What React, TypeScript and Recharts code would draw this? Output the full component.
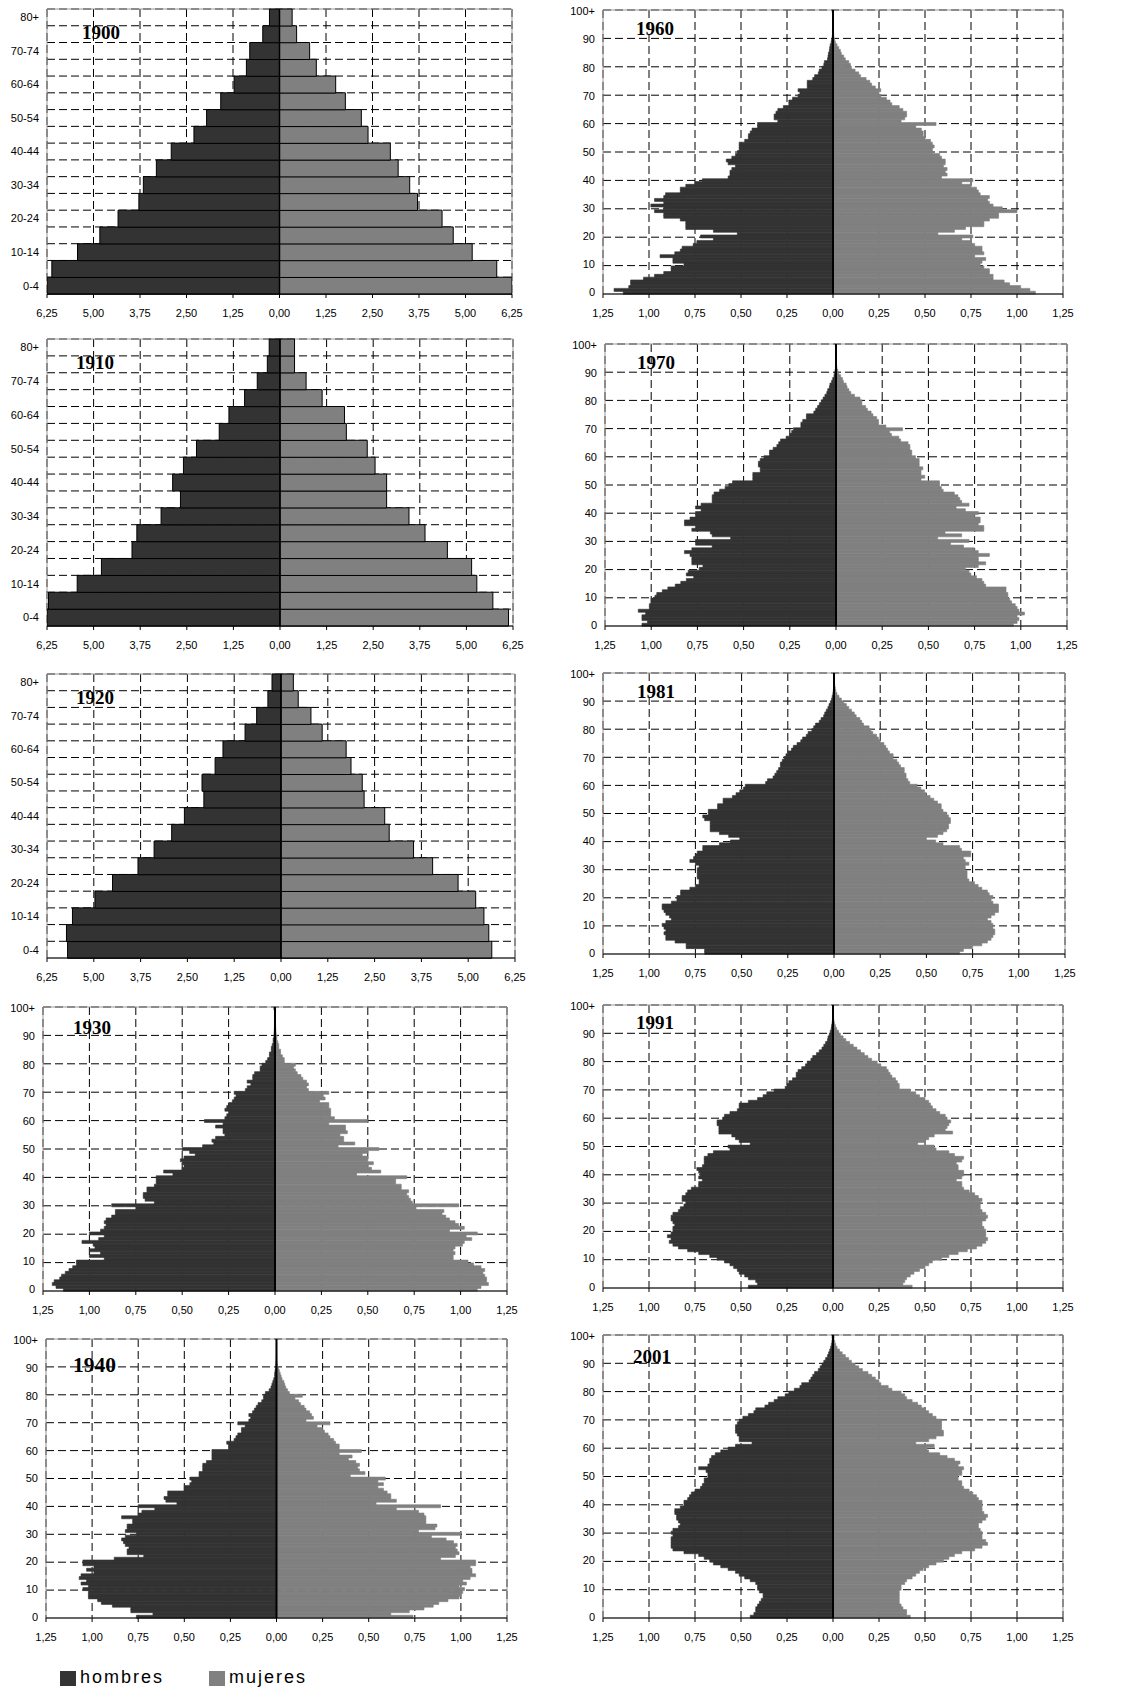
import React from "react";
import {
  BarChart,
  Bar,
  XAxis,
  YAxis,
  CartesianGrid,
  ReferenceLine,
  ReferenceArea,
} from "recharts";

// Age labels
const GROUPS = [
  "0-4", "5-9", "10-14", "15-19", "20-24", "25-29", "30-34", "35-39", "40-44",
  "45-49", "50-54", "55-59", "60-64", "65-69", "70-74", "75-79", "80+",
];
const AGES = Array.from({ length: 101 }, (_, i) => i);

// x-axis ticks (percent of total population)
const TICKS_GROUPS = [-6.25, -5, -3.75, -2.5, -1.25, 0, 1.25, 2.5, 3.75, 5, 6.25];
const TICKS_AGES = [-1.25, -1, -0.75, -0.5, -0.25, 0, 0.25, 0.5, 0.75, 1, 1.25];

// 5-year groups, 0-4 first
const hombres1900 = [6.39, 6.12, 5.43, 4.83, 4.34, 3.78, 3.66, 3.31, 2.91, 2.3, 1.96, 1.58, 1.22, 0.89, 0.8, 0.45, 0.27];
const mujeres1900 = [6.28, 5.84, 5.18, 4.67, 4.37, 3.71, 3.5, 3.19, 2.98, 2.38, 2.2, 1.77, 1.51, 0.99, 0.81, 0.46, 0.34];
const hombres1910 = [6.38, 6.21, 5.44, 4.79, 3.97, 3.84, 3.19, 2.67, 2.88, 2.59, 2.24, 1.63, 1.37, 0.95, 0.61, 0.34, 0.29];
const mujeres1910 = [6.13, 5.71, 5.28, 5.14, 4.49, 3.89, 3.46, 2.86, 2.86, 2.55, 2.34, 1.78, 1.73, 1.13, 0.7, 0.39, 0.39];
const hombres1920 = [5.7, 5.73, 5.57, 4.97, 4.5, 3.82, 3.39, 2.92, 2.58, 2.06, 2.11, 1.76, 1.55, 0.96, 0.65, 0.35, 0.24];
const mujeres1920 = [5.63, 5.55, 5.42, 5.2, 4.73, 4.05, 3.54, 2.89, 2.77, 2.22, 2.17, 1.87, 1.74, 1.1, 0.8, 0.46, 0.33];

// single years, age 0 first, last value is 100+
const hombres1930 = [
  1.14, 1.18, 1.2, 1.19, 1.16, 1.15, 1.13, 1.11, 1.09, 1.07,
  1.07, 0.92, 1.0, 0.94, 1.0, 0.97, 0.98, 1.04, 0.95, 0.92,
  1.0, 0.94, 0.92, 0.91, 0.92, 0.91, 0.88, 0.86, 0.86, 0.75,
  0.88, 0.65, 0.7, 0.71, 0.71, 0.69, 0.69, 0.65, 0.64, 0.64,
  0.64, 0.55, 0.6, 0.5, 0.49, 0.5, 0.51, 0.49, 0.43, 0.46,
  0.5, 0.39, 0.33, 0.34, 0.32, 0.27, 0.28, 0.28, 0.32, 0.28,
  0.38, 0.27, 0.26, 0.25, 0.27, 0.26, 0.25, 0.23, 0.22, 0.21,
  0.22, 0.16, 0.15, 0.13, 0.15, 0.12, 0.12, 0.11, 0.08, 0.08,
  0.07, 0.05, 0.04, 0.03, 0.03, 0.02, 0.02, 0.015, 0.01, 0.01,
  0.006, 0.005, 0.004, 0.003, 0.003, 0.002, 0.002, 0.002, 0.001, 0.001, 0.006,
];
const mujeres1930 = [
  1.09, 1.11, 1.15, 1.14, 1.14, 1.13, 1.12, 1.13, 1.11, 1.07,
  1.04, 0.96, 0.96, 0.97, 0.96, 0.97, 1.01, 1.02, 1.06, 1.03,
  1.09, 0.94, 1.02, 0.99, 0.97, 0.94, 0.92, 0.9, 0.91, 0.76,
  0.99, 0.74, 0.73, 0.72, 0.71, 0.72, 0.68, 0.68, 0.65, 0.65,
  0.71, 0.44, 0.57, 0.52, 0.5, 0.53, 0.5, 0.5, 0.47, 0.5,
  0.56, 0.34, 0.43, 0.37, 0.37, 0.35, 0.39, 0.38, 0.38, 0.29,
  0.5, 0.32, 0.3, 0.3, 0.3, 0.29, 0.29, 0.24, 0.27, 0.26,
  0.29, 0.18, 0.17, 0.18, 0.17, 0.15, 0.14, 0.12, 0.11, 0.1,
  0.11, 0.05, 0.05, 0.04, 0.03, 0.03, 0.02, 0.02, 0.015, 0.01,
  0.01, 0.006, 0.005, 0.004, 0.003, 0.002, 0.002, 0.001, 0.001, 0.001, 0.002,
];
const hombres1940 = [
  0.76, 0.67, 0.79, 0.79, 0.89, 0.95, 0.97, 1.02, 1.02, 1.02,
  1.05, 1.02, 1.06, 1.03, 1.07, 1.06, 0.99, 1.03, 0.99, 1.05,
  1.05, 0.88, 0.72, 0.81, 0.81, 0.8, 0.82, 0.83, 0.84, 0.82,
  0.76, 0.82, 0.81, 0.81, 0.78, 0.78, 0.84, 0.75, 0.73, 0.66,
  0.75, 0.54, 0.6, 0.61, 0.59, 0.59, 0.5, 0.5, 0.47, 0.46,
  0.47, 0.42, 0.42, 0.4, 0.4, 0.4, 0.38, 0.35, 0.35, 0.35,
  0.35, 0.26, 0.26, 0.27, 0.23, 0.22, 0.21, 0.19, 0.19, 0.17,
  0.21, 0.15, 0.14, 0.15, 0.13, 0.12, 0.11, 0.1, 0.08, 0.07,
  0.07, 0.06, 0.04, 0.03, 0.025, 0.02, 0.015, 0.01, 0.01, 0.008,
  0.005, 0.004, 0.003, 0.002, 0.002, 0.001, 0.001, 0.001, 0.001, 0.001, 0.001,
];
const mujeres1940 = [
  0.74, 0.62, 0.72, 0.8, 0.85, 0.88, 0.93, 0.99, 1.0, 1.01,
  1.02, 0.99, 1.03, 1.01, 1.05, 1.08, 1.06, 1.06, 1.05, 1.08,
  1.08, 0.89, 0.97, 0.99, 0.98, 0.97, 0.98, 0.96, 0.92, 0.84,
  1.0, 0.77, 0.86, 0.87, 0.81, 0.81, 0.81, 0.8, 0.77, 0.65,
  0.89, 0.54, 0.65, 0.62, 0.62, 0.6, 0.58, 0.55, 0.58, 0.55,
  0.59, 0.4, 0.48, 0.45, 0.44, 0.45, 0.43, 0.39, 0.41, 0.34,
  0.46, 0.34, 0.34, 0.32, 0.31, 0.29, 0.28, 0.26, 0.25, 0.22,
  0.29, 0.16, 0.2, 0.19, 0.18, 0.16, 0.15, 0.13, 0.12, 0.1,
  0.14, 0.07, 0.06, 0.05, 0.045, 0.04, 0.03, 0.025, 0.02, 0.015,
  0.01, 0.005, 0.003, 0.002, 0.001, 0.001, 0.001, 0, 0, 0, 0,
];
const hombres1960 = [
  1.14, 1.19, 1.11, 1.1, 1.1, 1.03, 0.97, 0.92, 0.88, 0.88,
  0.81, 0.87, 0.87, 0.94, 0.86, 0.83, 0.82, 0.76, 0.74, 0.65,
  0.72, 0.52, 0.65, 0.8, 0.8, 0.8, 0.83, 0.92, 0.92, 0.97,
  0.92, 0.99, 0.92, 0.97, 0.92, 0.91, 0.83, 0.83, 0.8, 0.75,
  0.71, 0.57, 0.56, 0.56, 0.55, 0.53, 0.57, 0.58, 0.55, 0.53,
  0.52, 0.51, 0.51, 0.51, 0.48, 0.46, 0.46, 0.45, 0.44, 0.41,
  0.41, 0.3, 0.32, 0.32, 0.31, 0.3, 0.27, 0.24, 0.24, 0.22,
  0.19, 0.18, 0.19, 0.14, 0.14, 0.14, 0.11, 0.1, 0.08, 0.075,
  0.06, 0.05, 0.047, 0.03, 0.027, 0.025, 0.02, 0.018, 0.015, 0.01,
  0.008, 0.004, 0.003, 0.003, 0.002, 0.002, 0.002, 0.002, 0.002, 0.002, 0.004,
];
const mujeres1960 = [
  1.1, 1.07, 1.02, 0.96, 0.93, 0.87, 0.87, 0.85, 0.85, 0.82,
  0.8, 0.81, 0.83, 0.77, 0.82, 0.81, 0.81, 0.77, 0.75, 0.7,
  0.76, 0.57, 0.66, 0.72, 0.82, 0.82, 0.85, 0.9, 0.9, 1.0,
  0.92, 0.87, 0.85, 0.84, 0.85, 0.8, 0.79, 0.78, 0.75, 0.7,
  0.76, 0.59, 0.62, 0.61, 0.62, 0.6, 0.61, 0.61, 0.59, 0.58,
  0.54, 0.54, 0.55, 0.54, 0.53, 0.5, 0.49, 0.49, 0.48, 0.45,
  0.56, 0.37, 0.39, 0.4, 0.4, 0.38, 0.36, 0.32, 0.31, 0.29,
  0.26, 0.25, 0.26, 0.23, 0.21, 0.2, 0.18, 0.15, 0.14, 0.12,
  0.1, 0.095, 0.086, 0.067, 0.058, 0.045, 0.04, 0.031, 0.022, 0.013,
  0.009, 0.005, 0.004, 0.003, 0.002, 0.002, 0.001, 0.001, 0.001, 0.001, 0.002,
];
const hombres1970 = [
  1.05, 1.02, 1.05, 1.05, 1.03, 1.07, 1.01, 1.01, 1.0, 1.0,
  0.98, 0.97, 0.94, 0.91, 0.87, 0.84, 0.81, 0.77, 0.81, 0.8,
  0.74, 0.72, 0.78, 0.78, 0.78, 0.79, 0.82, 0.78, 0.67, 0.76,
  0.76, 0.57, 0.67, 0.68, 0.78, 0.76, 0.82, 0.82, 0.79, 0.76,
  0.76, 0.73, 0.76, 0.73, 0.67, 0.67, 0.67, 0.66, 0.63, 0.6,
  0.58, 0.56, 0.45, 0.45, 0.45, 0.41, 0.41, 0.42, 0.42, 0.41,
  0.39, 0.36, 0.36, 0.34, 0.32, 0.31, 0.3, 0.27, 0.25, 0.24,
  0.23, 0.19, 0.19, 0.18, 0.16, 0.16, 0.12, 0.11, 0.1, 0.09,
  0.08, 0.07, 0.06, 0.05, 0.045, 0.036, 0.033, 0.024, 0.018, 0.011,
  0.009, 0.005, 0.003, 0.002, 0.002, 0.001, 0.001, 0.001, 0.001, 0.001, 0.003,
];
const mujeres1970 = [
  0.96, 0.98, 0.99, 0.98, 1.02, 0.99, 0.98, 0.97, 0.95, 0.94,
  0.93, 0.93, 0.92, 0.92, 0.81, 0.8, 0.79, 0.76, 0.73, 0.72,
  0.7, 0.77, 0.81, 0.77, 0.77, 0.83, 0.77, 0.75, 0.69, 0.62,
  0.72, 0.55, 0.68, 0.59, 0.8, 0.8, 0.77, 0.78, 0.78, 0.75,
  0.77, 0.7, 0.65, 0.72, 0.68, 0.67, 0.66, 0.64, 0.58, 0.57,
  0.56, 0.56, 0.46, 0.48, 0.46, 0.46, 0.47, 0.45, 0.45, 0.45,
  0.43, 0.41, 0.41, 0.4, 0.4, 0.39, 0.35, 0.34, 0.3, 0.29,
  0.36, 0.27, 0.23, 0.23, 0.22, 0.2, 0.19, 0.17, 0.16, 0.14,
  0.14, 0.13, 0.1, 0.08, 0.07, 0.06, 0.055, 0.04, 0.035, 0.025,
  0.015, 0.01, 0.005, 0.003, 0.002, 0.001, 0.001, 0.001, 0.001, 0, 0,
];
const hombres1981 = [
  0.7, 0.7, 0.8, 0.8, 0.86, 0.91, 0.91, 0.92, 0.91, 0.92,
  0.93, 0.91, 0.88, 0.89, 0.91, 0.92, 0.93, 0.93, 0.88, 0.85,
  0.85, 0.83, 0.83, 0.78, 0.75, 0.73, 0.73, 0.74, 0.74, 0.74,
  0.74, 0.73, 0.75, 0.78, 0.76, 0.75, 0.74, 0.71, 0.71, 0.62,
  0.56, 0.51, 0.57, 0.62, 0.67, 0.67, 0.67, 0.67, 0.7, 0.71,
  0.68, 0.68, 0.63, 0.63, 0.6, 0.6, 0.55, 0.53, 0.51, 0.49,
  0.48, 0.37, 0.36, 0.33, 0.32, 0.31, 0.3, 0.29, 0.29, 0.28,
  0.27, 0.26, 0.25, 0.23, 0.22, 0.2, 0.18, 0.17, 0.15, 0.14,
  0.12, 0.11, 0.1, 0.08, 0.07, 0.056, 0.05, 0.042, 0.033, 0.027,
  0.02, 0.013, 0.01, 0.006, 0.004, 0.002, 0.002, 0.001, 0.001, 0.001, 0.002,
];
const mujeres1981 = [
  0.68, 0.7, 0.75, 0.8, 0.83, 0.85, 0.86, 0.87, 0.87, 0.86,
  0.86, 0.85, 0.83, 0.85, 0.87, 0.89, 0.89, 0.89, 0.86, 0.85,
  0.86, 0.84, 0.83, 0.8, 0.78, 0.76, 0.73, 0.72, 0.72, 0.72,
  0.71, 0.71, 0.73, 0.71, 0.7, 0.74, 0.74, 0.69, 0.68, 0.59,
  0.55, 0.5, 0.56, 0.59, 0.61, 0.62, 0.62, 0.63, 0.63, 0.62,
  0.61, 0.59, 0.58, 0.58, 0.56, 0.54, 0.52, 0.5, 0.49, 0.47,
  0.45, 0.41, 0.4, 0.39, 0.39, 0.38, 0.38, 0.36, 0.35, 0.34,
  0.32, 0.32, 0.3, 0.29, 0.28, 0.27, 0.25, 0.24, 0.23, 0.21,
  0.2, 0.19, 0.16, 0.15, 0.14, 0.12, 0.11, 0.095, 0.08, 0.067,
  0.053, 0.04, 0.027, 0.016, 0.01, 0.007, 0.004, 0.002, 0.001, 0.001, 0.001,
];
const hombres1991 = [
  0.46, 0.41, 0.42, 0.46, 0.48, 0.51, 0.52, 0.54, 0.56, 0.59,
  0.63, 0.67, 0.73, 0.79, 0.84, 0.87, 0.89, 0.88, 0.9, 0.88,
  0.87, 0.87, 0.86, 0.87, 0.88, 0.88, 0.87, 0.84, 0.83, 0.81,
  0.8, 0.82, 0.82, 0.8, 0.79, 0.77, 0.73, 0.73, 0.71, 0.73,
  0.72, 0.73, 0.74, 0.71, 0.7, 0.7, 0.7, 0.68, 0.65, 0.56,
  0.57, 0.45, 0.51, 0.53, 0.55, 0.62, 0.62, 0.62, 0.63, 0.63,
  0.6, 0.59, 0.56, 0.52, 0.51, 0.51, 0.46, 0.41, 0.38, 0.36,
  0.32, 0.26, 0.25, 0.24, 0.22, 0.2, 0.2, 0.19, 0.17, 0.15,
  0.14, 0.12, 0.11, 0.09, 0.075, 0.06, 0.05, 0.04, 0.03, 0.027,
  0.02, 0.015, 0.01, 0.008, 0.005, 0.003, 0.002, 0.001, 0.001, 0.001, 0.002,
];
const mujeres1991 = [
  0.43, 0.38, 0.39, 0.4, 0.42, 0.44, 0.47, 0.5, 0.52, 0.54,
  0.59, 0.63, 0.68, 0.73, 0.78, 0.81, 0.83, 0.84, 0.83, 0.83,
  0.83, 0.82, 0.81, 0.81, 0.83, 0.84, 0.83, 0.81, 0.8, 0.8,
  0.8, 0.81, 0.79, 0.77, 0.74, 0.71, 0.7, 0.7, 0.67, 0.7,
  0.71, 0.71, 0.68, 0.68, 0.67, 0.7, 0.71, 0.66, 0.63, 0.56,
  0.55, 0.46, 0.5, 0.52, 0.55, 0.65, 0.61, 0.62, 0.63, 0.64,
  0.62, 0.61, 0.58, 0.56, 0.54, 0.53, 0.52, 0.5, 0.47, 0.45,
  0.42, 0.36, 0.36, 0.35, 0.34, 0.32, 0.31, 0.3, 0.29, 0.26,
  0.24, 0.21, 0.19, 0.17, 0.15, 0.13, 0.11, 0.09, 0.07, 0.055,
  0.04, 0.03, 0.02, 0.013, 0.008, 0.005, 0.003, 0.002, 0.001, 0.001, 0.001,
];
const hombres2001 = [
  0.45, 0.43, 0.42, 0.42, 0.41, 0.4, 0.39, 0.38, 0.38, 0.4,
  0.41, 0.41, 0.42, 0.45, 0.48, 0.51, 0.53, 0.57, 0.61, 0.65,
  0.67, 0.7, 0.73, 0.81, 0.87, 0.88, 0.88, 0.88, 0.88, 0.87,
  0.88, 0.87, 0.84, 0.83, 0.84, 0.85, 0.85, 0.86, 0.86, 0.83,
  0.81, 0.81, 0.79, 0.78, 0.77, 0.75, 0.72, 0.71, 0.7, 0.7,
  0.68, 0.68, 0.69, 0.73, 0.68, 0.67, 0.67, 0.66, 0.64, 0.61,
  0.57, 0.53, 0.44, 0.51, 0.51, 0.52, 0.53, 0.53, 0.53, 0.52,
  0.51, 0.49, 0.46, 0.43, 0.42, 0.37, 0.35, 0.32, 0.3, 0.26,
  0.24, 0.21, 0.18, 0.17, 0.13, 0.12, 0.11, 0.1, 0.08, 0.07,
  0.06, 0.05, 0.04, 0.03, 0.024, 0.018, 0.013, 0.009, 0.006, 0.004, 0.005,
];
const mujeres2001 = [
  0.42, 0.4, 0.4, 0.38, 0.37, 0.36, 0.36, 0.36, 0.36, 0.36,
  0.37, 0.37, 0.39, 0.4, 0.43, 0.45, 0.47, 0.49, 0.52, 0.56,
  0.6, 0.63, 0.66, 0.7, 0.77, 0.81, 0.84, 0.83, 0.81, 0.81,
  0.81, 0.8, 0.79, 0.79, 0.81, 0.83, 0.84, 0.82, 0.81, 0.81,
  0.81, 0.81, 0.79, 0.78, 0.76, 0.74, 0.71, 0.7, 0.7, 0.68,
  0.68, 0.7, 0.7, 0.71, 0.68, 0.69, 0.66, 0.62, 0.58, 0.52,
  0.51, 0.55, 0.45, 0.52, 0.56, 0.6, 0.6, 0.59, 0.59, 0.59,
  0.59, 0.56, 0.54, 0.52, 0.5, 0.48, 0.46, 0.43, 0.4, 0.39,
  0.37, 0.32, 0.3, 0.26, 0.25, 0.23, 0.21, 0.19, 0.16, 0.14,
  0.12, 0.1, 0.085, 0.067, 0.05, 0.035, 0.022, 0.015, 0.01, 0.006, 0.006,
];

const HOMBRES_COLOR = "#333333";
const MUJERES_COLOR = "#808080";
const SANS = "'Liberation Sans', Arial, sans-serif";
const SERIF = "'Liberation Serif', 'Times New Roman', serif";

// plot-area placement of each pyramid (left, top, width, height) and its title
const PANELS = [
  { year: "1900", men: hombres1900, women: mujeres1900, x: 47, y: 9, w: 465, h: 285, tx: 82, ty: 39, ts: 19 },
  { year: "1910", men: hombres1910, women: mujeres1910, x: 47, y: 339, w: 466, h: 287, tx: 76, ty: 369, ts: 19 },
  { year: "1920", men: hombres1920, women: mujeres1920, x: 47, y: 674, w: 468, h: 284, tx: 76, ty: 704, ts: 19 },
  { year: "1930", men: hombres1930, women: mujeres1930, x: 43, y: 1007, w: 464, h: 284, tx: 73, ty: 1034, ts: 19 },
  { year: "1940", men: hombres1940, women: mujeres1940, x: 46, y: 1339, w: 461, h: 279, tx: 73, ty: 1372, ts: 21.5 },
  { year: "1960", men: hombres1960, women: mujeres1960, x: 603, y: 10, w: 460, h: 284, tx: 636, ty: 35, ts: 19 },
  { year: "1970", men: hombres1970, women: mujeres1970, x: 605, y: 344, w: 462, h: 282, tx: 637, ty: 369, ts: 19 },
  { year: "1981", men: hombres1981, women: mujeres1981, x: 603, y: 673, w: 462, h: 281, tx: 637, ty: 698, ts: 19 },
  { year: "1991", men: hombres1991, women: mujeres1991, x: 603, y: 1005, w: 460, h: 283, tx: 636, ty: 1029, ts: 19 },
  { year: "2001", men: hombres2001, women: mujeres2001, x: 603, y: 1335, w: 460, h: 283, tx: 633, ty: 1363, ts: 19 },
];

const fmtPct = (v: number) => Math.abs(v).toFixed(2).replace(".", ",");
const fmtAge = (v: number | string) => (v === 100 ? "100+" : String(v));

const YW = 45;
const TOP = 6;
const RIGHT = 12;
const XH = 30;

function Pyramid({ men, women, x, y, w, h }: { men: number[]; women: number[]; x: number; y: number; w: number; h: number }) {
  const grouped = men.length === GROUPS.length;
  const labels: (string | number)[] = grouped ? GROUPS : AGES;
  const ticks = grouped ? TICKS_GROUPS : TICKS_AGES;
  const max = ticks[ticks.length - 1];
  const rows = labels.map((g, i) => ({ g, h: -men[i], m: women[i] }));
  // dashed lines on every group boundary, or every 10 years
  const lines = grouped ? GROUPS.length : 10;
  const gridY = ({ offset }: any) =>
    Array.from({ length: lines }, (_, i) => offset.top + (offset.height * i) / lines);

  const tickStyle = { fontSize: 11, fill: "#000", fontFamily: SANS };
  const outline = grouped ? "#000" : undefined;

  return (
    <div style={{ position: "absolute", left: x - YW, top: y - TOP }}>
      <BarChart
        width={YW + w + RIGHT}
        height={TOP + h + XH}
        data={rows}
        layout="vertical"
        stackOffset="sign"
        barCategoryGap={0}
        barGap={0}
        margin={{ top: TOP, right: RIGHT, bottom: 0, left: 0 }}
      >
        <CartesianGrid
          stroke="#000"
          strokeDasharray="8 4"
          horizontalCoordinatesGenerator={gridY}
        />
        <XAxis
          type="number"
          domain={[-max, max]}
          ticks={ticks}
          interval={0}
          allowDataOverflow
          tickFormatter={fmtPct}
          tick={tickStyle}
          tickSize={4}
          tickMargin={11}
          height={XH}
          axisLine={{ stroke: "#000" }}
          tickLine={{ stroke: "#000" }}
        />
        <YAxis
          type="category"
          dataKey="g"
          reversed
          width={YW}
          interval={grouped ? 1 : 9}
          tickFormatter={grouped ? undefined : fmtAge}
          tick={tickStyle}
          tickSize={0}
          tickMargin={8}
          axisLine={false}
          tickLine={false}
        />
        <ReferenceArea x1={-max} x2={max} fill="none" stroke="#999" strokeWidth={1} />
        <Bar
          dataKey="h"
          stackId="p"
          fill={HOMBRES_COLOR}
          stroke={outline ?? HOMBRES_COLOR}
          strokeWidth={grouped ? 1 : 0.6}
          isAnimationActive={false}
        />
        <Bar
          dataKey="m"
          stackId="p"
          fill={MUJERES_COLOR}
          stroke={outline ?? MUJERES_COLOR}
          strokeWidth={grouped ? 1 : 0.6}
          isAnimationActive={false}
        />
        <ReferenceLine x={0} stroke="#000" strokeWidth={grouped ? 1.5 : 2} />
      </BarChart>
    </div>
  );
}

export default function App() {
  return (
    <div
      style={{
        position: "absolute",
        left: 0,
        top: 0,
        width: 1125,
        height: 1690,
        background: "#fff",
        overflow: "hidden",
      }}
    >
      {PANELS.map((p) => (
        <Pyramid key={p.year} men={p.men} women={p.women} x={p.x} y={p.y} w={p.w} h={p.h} />
      ))}
      <svg
        width={1125}
        height={1690}
        style={{ position: "absolute", left: 0, top: 0, pointerEvents: "none" }}
      >
        {PANELS.map((p) => (
          <text
            key={p.year}
            x={p.tx}
            y={p.ty}
            fontFamily={SERIF}
            fontWeight="bold"
            fontSize={p.ts}
            fill="#000"
          >
            {p.year}
          </text>
        ))}
        <rect x={60} y={1671} width={16} height={15} fill={HOMBRES_COLOR} />
        <text x={80} y={1683} fontFamily={SANS} fontSize={18} letterSpacing={2} fill="#000">
          hombres
        </text>
        <rect x={209} y={1671} width={16} height={15} fill={MUJERES_COLOR} />
        <text x={229} y={1683} fontFamily={SANS} fontSize={18} letterSpacing={2} fill="#000">
          mujeres
        </text>
      </svg>
    </div>
  );
}
